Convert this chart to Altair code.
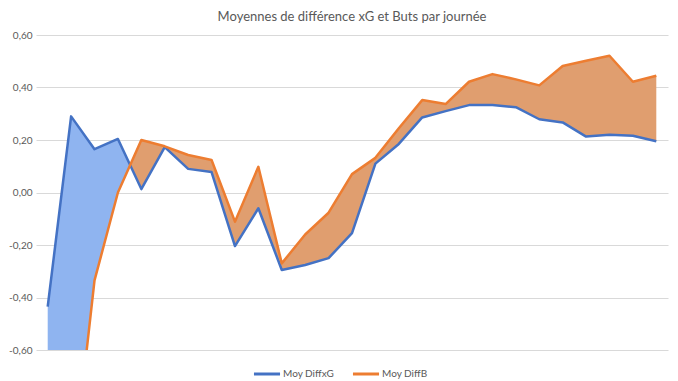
import altair as alt
import pandas as pd

# Data (27 matchdays)
journees = list(range(1, 28))
diff_xg = [-0.435, 0.29, 0.165, 0.204, 0.013, 0.173, 0.09, 0.078, -0.204, -0.06,
           -0.295, -0.276, -0.25, -0.155, 0.11, 0.185, 0.286, 0.31, 0.333, 0.333,
           0.325, 0.279, 0.267, 0.213, 0.22, 0.216, 0.195]
diff_b = [-0.95, -1.13, -0.335, 0.0, 0.2, 0.176, 0.143, 0.124, -0.111, 0.098,
          -0.27, -0.16, -0.077, 0.07, 0.132, 0.245, 0.352, 0.337, 0.422, 0.451,
          0.431, 0.408, 0.482, 0.502, 0.521, 0.422, 0.445]
series_names = ["Moy DiffxG", "Moy DiffB"]
y_ticks = [-0.6, -0.4, -0.2, 0.0, 0.2, 0.4, 0.6]

BLUE = "#4472C4"
ORANGE = "#ED7D31"
BLUE_FILL = "#8FB4F0"
ORANGE_FILL = "#E09E6F"
GREY = "#595959"
FONT = "Lato"

# long table for lines
lines = pd.DataFrame(
    [{"j": j, "v": v, "s": series_names[0]} for j, v in zip(journees, diff_xg)]
    + [{"j": j, "v": v, "s": series_names[1]} for j, v in zip(journees, diff_b)]
)

# band table with crossing points inserted
rows = []
for i in range(len(journees)):
    rows.append({"j": journees[i], "b": diff_xg[i], "o": diff_b[i]})
    if i + 1 < len(journees):
        d0 = diff_xg[i] - diff_b[i]
        d1 = diff_xg[i + 1] - diff_b[i + 1]
        if d0 * d1 < 0:
            t = d0 / (d0 - d1)
            yb = diff_xg[i] + t * (diff_xg[i + 1] - diff_xg[i])
            rows.append({"j": journees[i] + t, "b": yb, "o": yb})
band = pd.DataFrame(rows)
band["low"] = band[["b", "o"]].min(axis=1)

x_enc = alt.X("j:Q", scale=alt.Scale(domain=[0.5, 27.5], nice=False, zero=False), axis=None)
y_scale = alt.Scale(domain=[-0.6, 0.6], nice=False, zero=False)
y_axis = alt.Axis(
    values=y_ticks,
    labelExpr="(datum.value < 0 ? '-' : '') + replace(format(abs(datum.value), '.2f'), '.', ',')",
    domain=False, ticks=False, tickSize=0, labelPadding=4,
    grid=True, gridColor="#D9D9D9", gridWidth=1,
    labelColor=GREY, labelFontSize=10, labelFont=FONT, title=None,
)

blue_area = alt.Chart(band).mark_area(color=BLUE_FILL, opacity=1, clip=True).encode(
    x=x_enc,
    y=alt.Y("b:Q", scale=y_scale, axis=y_axis),
    y2="low:Q",
)
orange_area = alt.Chart(band).mark_area(color=ORANGE_FILL, opacity=1, clip=True).encode(
    x=x_enc,
    y=alt.Y("o:Q", scale=y_scale),
    y2="low:Q",
)
line_chart = alt.Chart(lines).mark_line(strokeWidth=2.5, clip=True, strokeJoin="round").encode(
    x=x_enc,
    y=alt.Y("v:Q", scale=y_scale),
    color=alt.Color(
        "s:N",
        scale=alt.Scale(domain=series_names, range=[BLUE, ORANGE]),
        sort=series_names,
        legend=alt.Legend(
            title=None, orient="none", direction="horizontal",
            legendX=216, legendY=324,
            symbolType="stroke", symbolSize=680, symbolStrokeWidth=3,
            labelFontSize=10, labelColor=GREY, labelFont=FONT,
            labelOffset=1, columnPadding=11,
        ),
    ),
    detail="s:N",
)

chart = alt.layer(blue_area, orange_area, line_chart).properties(
    width=632, height=315,
    autosize=alt.AutoSizeParams(type="none"),
    padding={"left": 28, "top": 27, "right": 2, "bottom": 32},
    title=alt.Title(
        "Moyennes de différence xG et Buts par journée",
        fontSize=13, font=FONT, color=GREY, fontWeight="normal", offset=6, anchor="middle",
    ),
).configure_view(stroke=None)

chart.save("out.html", embed_options={"renderer": "svg", "actions": False})
